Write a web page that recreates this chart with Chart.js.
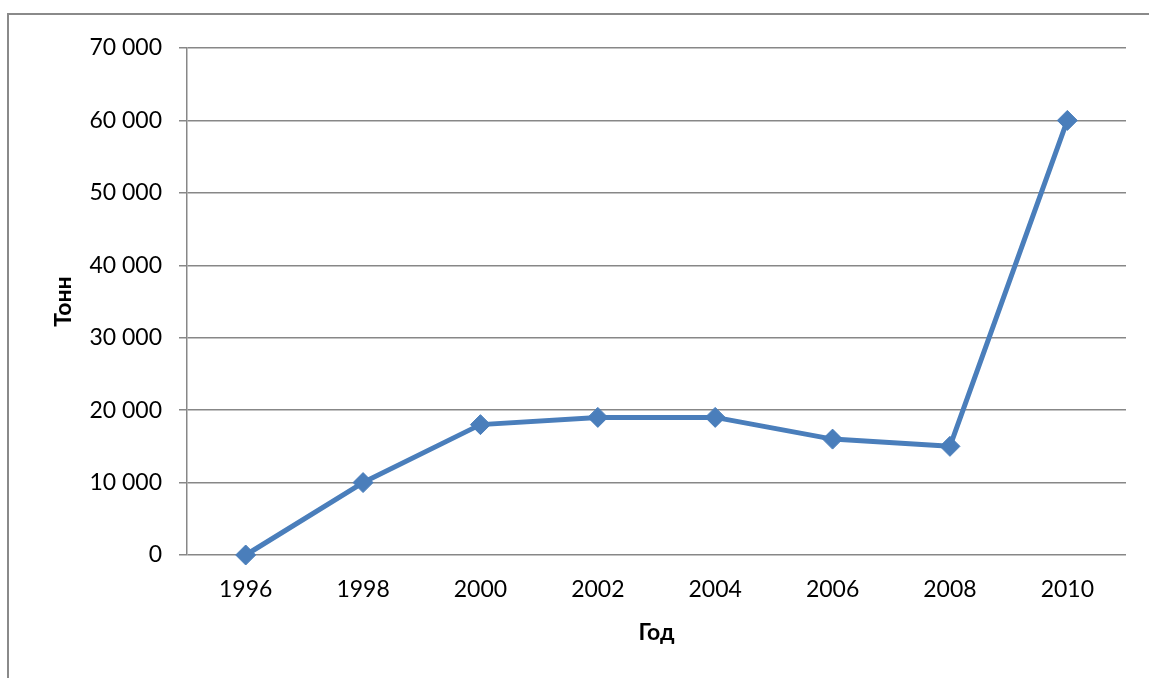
<!DOCTYPE html>
<html>
<head>
<meta charset="utf-8">
<script src="https://cdn.jsdelivr.net/npm/chart.js@4.4.1/dist/chart.umd.min.js"></script>
<style>
  html, body { margin: 0; padding: 0; background: #fff; overflow: hidden; }
  #frame { position: absolute; left: 7px; top: 13px; width: 1300px; height: 800px; border: 2px solid #8a8a8a; }
  #wrap { position: absolute; left: 0; top: 0; width: 1149px; height: 678px; }
</style>
</head>
<body>
<div id="frame"></div>
<div id="wrap"><canvas id="c" width="1149" height="678"></canvas></div>
<script>
// Production by year, tonnes
const years = ['1996', '1998', '2000', '2002', '2004', '2006', '2008', '2010'];
const tonnes = [0, 10000, 18000, 19000, 19000, 16000, 15000, 60000];
const yMin = 0;
const yMax = 70000;
const yStep = 10000;
const xTitle = 'Год';
const yTitle = 'Тонн';

const FONT = 'Lato, "Open Sans", "Noto Sans", sans-serif';
const GRID = '#878787';
const BLUE = '#4A7EBB';

const fmt = v => String(v).replace(/\B(?=(\d{3})+(?!\d))/g, ' ');

new Chart(document.getElementById('c'), {
  type: 'line',
  data: {
    labels: years,
    datasets: [{
      data: tonnes,
      clip: false,
      borderColor: BLUE,
      backgroundColor: BLUE,
      borderWidth: 5,
      borderJoinStyle: 'round',
      borderCapStyle: 'round',
      tension: 0,
      pointStyle: 'rectRot',
      pointRadius: 10,
      pointBorderWidth: 1,
      pointBackgroundColor: BLUE,
      pointBorderColor: BLUE,
      fill: false
    }]
  },
  options: {
    responsive: false,
    animation: false,
    layout: { padding: { left: 0, top: 48, right: 23, bottom: 0 } },
    plugins: { legend: { display: false }, tooltip: { enabled: false } },
    scales: {
      x: {
        type: 'category',
        offset: true,
        grid: { display: true, color: 'rgba(0,0,0,0)', drawOnChartArea: false, drawTicks: false },
        border: { display: false },
        ticks: { color: '#000', font: { family: FONT, size: 23 }, padding: 21, maxRotation: 0 },
        title: { display: true, text: xTitle, color: '#000',
                 font: { family: FONT, size: 23, weight: 'bold' }, padding: { top: 0, bottom: 32 } },
        afterFit: s => { s.height = 123; }
      },
      y: {
        min: yMin,
        max: yMax,
        grid: { color: GRID, lineWidth: 1.5, tickLength: 8, drawTicks: true },
        border: { display: true, color: GRID, width: 1.5 },
        ticks: { stepSize: yStep, color: '#000', font: { family: FONT, size: 23 }, padding: 17,
                 callback: v => fmt(v) },
        title: { display: true, text: yTitle, color: '#000',
                 font: { family: FONT, size: 23, weight: 'bold' }, padding: { top: 50, bottom: 0 } },
        afterFit: s => { s.width = 187; }
      }
    }
  }
});
</script>
</body>
</html>
